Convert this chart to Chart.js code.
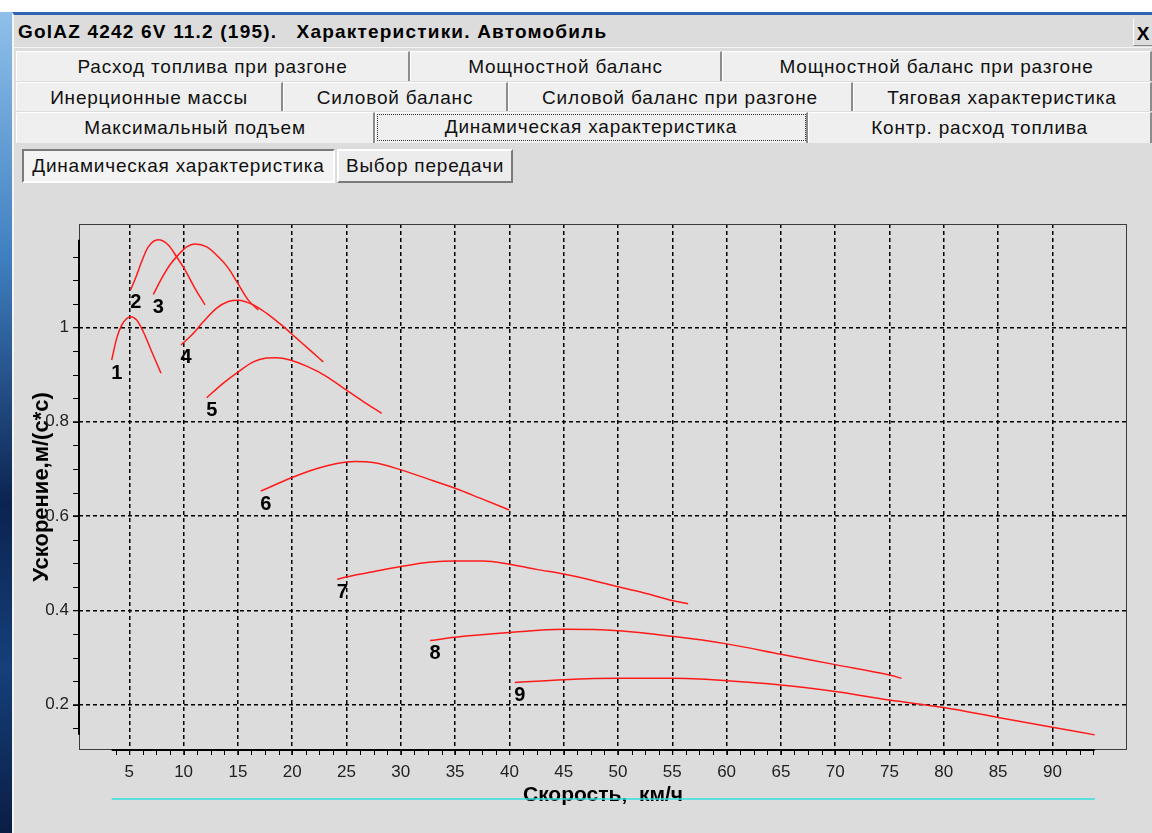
<!DOCTYPE html>
<html>
<head>
<meta charset="utf-8">
<script src="https://cdn.jsdelivr.net/npm/chart.js@4"></script>
<style>
  body { margin: 0; width: 1152px; height: 833px; overflow: hidden; background: #fff;
         font-family: "Liberation Sans", Arial, sans-serif; position: relative; }
  #desk { position: absolute; left: 0; top: 12px; width: 12px; height: 821px;
          background: linear-gradient(#8fc0ea, #3f7fc0 30%, #0b2350 60%, #15407a 80%, #0a1d44); }
  #win { position: absolute; left: 12px; top: 12px; width: 1140px; height: 821px;
         background: #dcdcdc; border-top: 3px solid #2f64b0; border-left: 2px solid #f4f4f4; box-sizing: border-box; }
  #title { position: absolute; left: 14px; top: 17px; width: 1138px; height: 30px; background: #dcdcdc;
           border-bottom: 1px solid #f4f4f4; font-weight: bold; font-size: 19px; line-height: 30px; letter-spacing: 1.2px; }
  #title span { position: absolute; left: 4px; }
  #close { position: absolute; right: 0; top: 2px; width: 18px; height: 26px; border-left: 1px solid #fff;
           border-bottom: 1px solid #888; text-align: center; font-weight: bold; letter-spacing: 0; }
  .row { position: absolute; left: 16px; width: 1136px; }
  .tab { position: absolute; top: 0; bottom: 0; background: #efefef; border-top: 1px solid #fff;
         border-left: 1px solid #fff; border-right: 2px solid #8c8c8c; box-sizing: border-box;
         text-align: center; font-size: 19px; color: #111; letter-spacing: 0.8px; }
  .sel { outline: 1px dotted #333; outline-offset: -3px; }
  .btn { position: absolute; top: 149px; height: 34px; box-sizing: border-box; font-size: 19px;
         line-height: 30px; text-align: center; color: #111; letter-spacing: 0.8px; }
  #chart { position: absolute; left: 0; top: 0; }
</style>
</head>
<body>
<div id="desk"></div>
<div id="win"></div>
<div id="title"><span>GolAZ 4242 6V 11.2 (195).&nbsp;&nbsp; Характеристики. Автомобиль</span><div id="close">X</div></div>
<div class="row" style="top:51px;height:30px;line-height:30px">
  <div class="tab" style="left:0;width:394px">Расход топлива при разгоне</div>
  <div class="tab" style="left:394px;width:312px">Мощностной баланс</div>
  <div class="tab" style="left:706px;width:430px">Мощностной баланс при разгоне</div>
</div>
<div class="row" style="top:82px;height:29px;line-height:29px">
  <div class="tab" style="left:0;width:267px">Инерционные массы</div>
  <div class="tab" style="left:267px;width:225px">Силовой баланс</div>
  <div class="tab" style="left:492px;width:345px">Силовой баланс при разгоне</div>
  <div class="tab" style="left:837px;width:299px">Тяговая характеристика</div>
</div>
<div class="row" style="top:112px;height:31px;line-height:30px">
  <div class="tab" style="left:0;width:359px">Максимальный подъем</div>
  <div class="tab sel" style="left:359px;width:433px;line-height:28px">Динамическая характеристика</div>
  <div class="tab" style="left:792px;width:344px">Контр. расход топлива</div>
</div>
<div class="btn" style="left:22px;width:313px;background:#f3f3f3;border:2px solid;border-color:#7a7a7a #fff #fff #7a7a7a">Динамическая характеристика</div>
<div class="btn" style="left:337px;width:176px;background:#ececec;border:2px solid;border-color:#fff #7a7a7a #7a7a7a #fff">Выбор передачи</div>

<canvas id="chart" width="1152" height="833"></canvas>

<script>
// gear curves: speed (km/h) and acceleration (m/s^2)
const gearLabels = ['1', '2', '3', '4', '5', '6', '7', '8', '9'];

const speed1 = [3.38, 3.84, 4.30, 4.76, 5.13, 5.68, 6.29, 7.06, 7.92];
const accel1 = [0.931, 0.977, 1.005, 1.019, 1.023, 1.016, 0.991, 0.949, 0.903];

const speed2 = [5.13, 5.68, 6.14, 6.75, 7.67, 8.59, 9.36, 10.13, 11.05, 11.97];
const accel2 = [1.080, 1.111, 1.140, 1.171, 1.186, 1.175, 1.150, 1.122, 1.083, 1.048];

const speed3 = [7.21, 7.98, 8.75, 9.51, 10.28, 11.05, 12.13, 13.2, 14.12, 14.98, 15.96, 16.88];
const accel3 = [1.070, 1.104, 1.133, 1.154, 1.171, 1.177, 1.171, 1.150, 1.126, 1.094, 1.058, 1.037];

const speed4 = [9.76, 10.75, 11.81, 13.05, 14.12, 15.04, 16.42, 17.65, 19.03, 20.41, 21.64, 22.86];
const accel4 = [0.963, 0.984, 1.012, 1.041, 1.055, 1.058, 1.048, 1.030, 1.005, 0.977, 0.952, 0.927];

const speed5 = [12.13, 13.66, 15.04, 16.42, 17.5, 18.57, 19.8, 21.33, 23.18, 25.0, 26.55, 28.24];
const accel5 = [0.851, 0.882, 0.906, 0.927, 0.935, 0.936, 0.931, 0.918, 0.896, 0.867, 0.843, 0.818];

const speed6 = [17.1, 20.0, 22.3, 24.0, 25.8, 27.6, 30.0, 32.35, 35.0, 37.3, 39.99];
const accel6 = [0.653, 0.682, 0.701, 0.711, 0.716, 0.713, 0.698, 0.680, 0.659, 0.638, 0.613];

const speed7 = [24.15, 25, 27.46, 30, 32.6, 35, 37.6, 40, 42.5, 45, 47.6, 50, 52.6, 55, 56.46];
const accel7 = [0.466, 0.471, 0.482, 0.493, 0.502, 0.505, 0.505, 0.498, 0.487, 0.477, 0.464, 0.450, 0.436, 0.421, 0.414];

const speed8 = [32.7, 35, 40, 45, 50, 55, 60, 65, 70, 75, 76.1];
const accel8 = [0.336, 0.343, 0.353, 0.360, 0.357, 0.345, 0.329, 0.307, 0.285, 0.263, 0.256];

const speed9 = [40.5, 45, 50, 55, 60, 65, 70, 75, 80, 85, 90, 93.9];
const accel9 = [0.247, 0.253, 0.256, 0.256, 0.251, 0.242, 0.228, 0.210, 0.194, 0.173, 0.152, 0.136];

const xTicks = [5, 10, 15, 20, 25, 30, 35, 40, 45, 50, 55, 60, 65, 70, 75, 80, 85, 90];
const yTicks = [0.2, 0.4, 0.6, 0.8, 1];

const speeds = [speed1, speed2, speed3, speed4, speed5, speed6, speed7, speed8, speed9];
const accels = [accel1, accel2, accel3, accel4, accel5, accel6, accel7, accel8, accel9];

const datasets = speeds.map((sp, i) => ({
  label: gearLabels[i],
  data: sp.map((v, j) => ({ x: v, y: accels[i][j] })),
  showLine: true,
  borderColor: '#ff1a1a',
  borderWidth: 1.5,
  pointRadius: 0,
  cubicInterpolationMode: 'monotone'
}));

const allV = speeds.flat(), allA = accels.flat();
const vMin = Math.min(...allV), vMax = Math.max(...allV);
const aMin = Math.min(...allA), aMax = Math.max(...allA);

// frame, thick axis lines, minor ticks, gear numbers
const decor = {
  id: 'decor',
  afterDraw(chart) {
    const { ctx, chartArea: a, scales: { x, y } } = chart;
    ctx.save();
    ctx.strokeStyle = '#3c3c3c';
    ctx.lineWidth = 1;
    ctx.strokeRect(a.left + 0.5, a.top + 0.5, a.right - a.left - 1, a.bottom - a.top - 1);

    ctx.strokeStyle = '#000';
    ctx.lineWidth = 2;
    ctx.beginPath();
    ctx.moveTo(x.getPixelForValue(vMin), a.bottom);
    ctx.lineTo(x.getPixelForValue(vMax), a.bottom);
    ctx.moveTo(a.left, y.getPixelForValue(aMin));
    ctx.lineTo(a.left, y.getPixelForValue(aMax));
    ctx.stroke();

    ctx.lineWidth = 1;
    ctx.beginPath();
    for (let v = 1.25; v <= vMax; v += 1.25) {
      if (v < vMin) continue;
      const px = Math.round(x.getPixelForValue(v)) + 0.5;
      ctx.moveTo(px, a.bottom);
      ctx.lineTo(px, a.bottom + 5);
    }
    for (let k = 1; k * 0.05 <= aMax; k++) {
      if (k * 0.05 < aMin) continue;
      const py = Math.round(y.getPixelForValue(k * 0.05)) + 0.5;
      ctx.moveTo(a.left - 6, py);
      ctx.lineTo(a.left, py);
    }
    ctx.stroke();

    ctx.strokeStyle = '#33e0e0';
    ctx.lineWidth = 1.5;
    ctx.beginPath();
    ctx.moveTo(x.getPixelForValue(vMin), a.bottom + 49);
    ctx.lineTo(x.getPixelForValue(vMax), a.bottom + 49);
    ctx.stroke();

    ctx.fillStyle = '#000';
    ctx.font = 'bold 20px "Liberation Sans", Arial, sans-serif';
    ctx.textAlign = 'center';
    ctx.textBaseline = 'middle';
    speeds.forEach((sp, i) => {
      const px = x.getPixelForValue(sp[0]) + 5;
      const py = y.getPixelForValue(accels[i][0]) + 13;
      ctx.fillText(gearLabels[i], px, py);
    });
    ctx.restore();
  }
};

const tickFont = { family: '"Liberation Sans", Arial, sans-serif', size: 17 };

new Chart(document.getElementById('chart').getContext('2d'), {
  type: 'scatter',
  data: { datasets: datasets },
  options: {
    responsive: false,
    animation: false,
    layout: { padding: { left: 0, top: 224, right: 25, bottom: 0 } },
    plugins: { legend: { display: false }, tooltip: { enabled: false } },
    scales: {
      x: {
        type: 'linear',
        min: 0.37,
        max: 96.87,
        afterBuildTicks: s => { s.ticks = xTicks.map(v => ({ value: v })); },
        afterFit: s => { s.height = 83; },
        grid: { color: '#000', lineWidth: 1.5, tickLength: 5, tickColor: '#000', tickWidth: 1 },
        border: { display: false, dash: [4, 3] },
        ticks: { color: '#222', font: tickFont, padding: 7, maxRotation: 0, autoSkip: false },
        title: { display: true, text: 'Скорость,  км/ч', color: '#000',
                 font: { family: '"Liberation Sans", Arial, sans-serif', size: 21, weight: 'bold' },
                 padding: { top: 0, bottom: 25 } }
      },
      y: {
        type: 'linear',
        min: 0.1039,
        max: 1.2195,
        afterBuildTicks: s => { s.ticks = yTicks.map(v => ({ value: v })); },
        afterFit: s => { s.width = 79; },
        grid: { color: '#000', lineWidth: 1.5, tickLength: 6, tickColor: '#000', tickWidth: 1 },
        border: { display: false, dash: [4, 3] },
        ticks: { color: '#222', font: tickFont, padding: 4, callback: v => String(v) },
        title: { display: true, text: 'Ускорение,м/(с*с)', color: '#000',
                 font: { family: '"Liberation Sans", Arial, sans-serif', size: 22, weight: 'bold' },
                 padding: { top: 29, bottom: 0 } }
      }
    }
  },
  plugins: [decor]
});
</script>
</body>
</html>
